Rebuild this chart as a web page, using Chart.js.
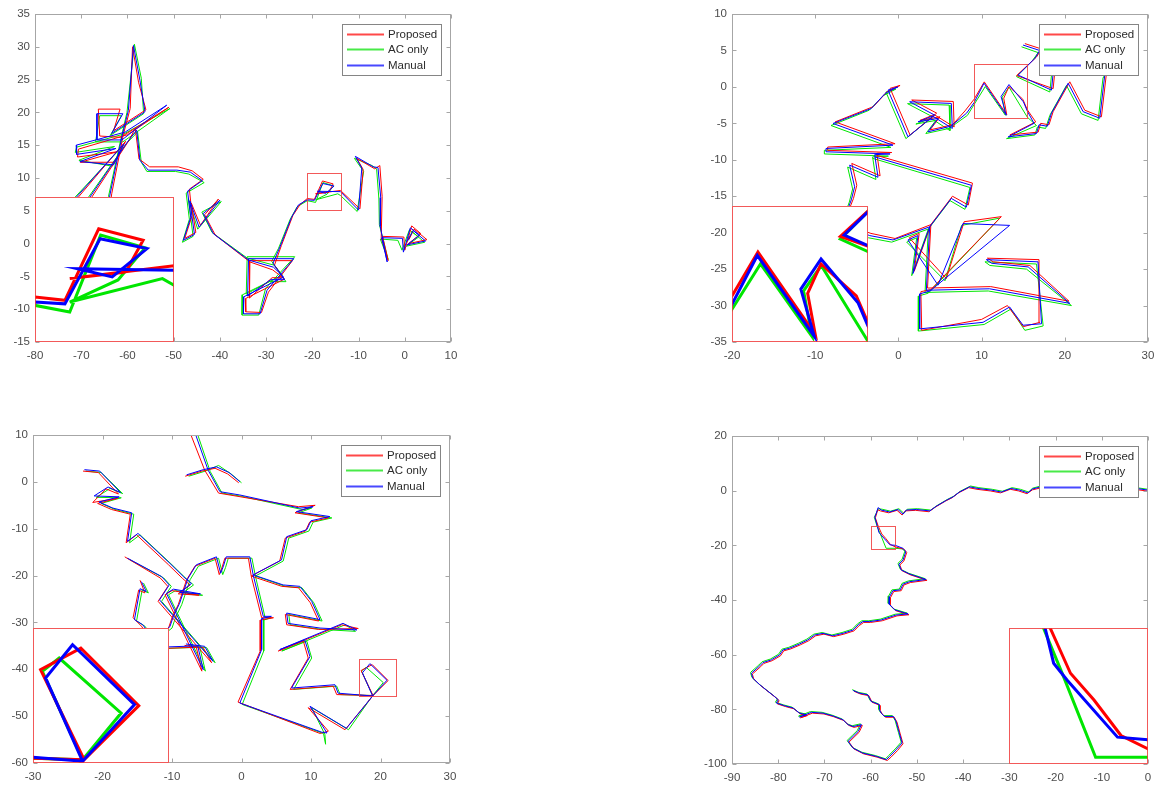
<!DOCTYPE html>
<html><head><meta charset="utf-8">
<script src="https://cdn.jsdelivr.net/npm/chart.js@4.4.0/dist/chart.umd.min.js"></script>
<style>
html,body{margin:0;padding:0;background:#fff;}
body{width:1156px;height:785px;position:relative;overflow:hidden;}
canvas{position:absolute;}
canvas.inset{background:#fff;}
</style></head><body>
<canvas id="m_tl"></canvas><canvas id="m_tr"></canvas><canvas id="m_bl"></canvas><canvas id="m_br"></canvas>
<canvas id="i_tl" class="inset"></canvas><canvas id="i_tr" class="inset"></canvas><canvas id="i_bl" class="inset"></canvas><canvas id="i_br" class="inset"></canvas>
<script>
// ---------- data ----------
const seriesNames = ['Proposed', 'AC only', 'Manual'];

// top-left panel
const tlXTicks = [-80,-70,-60,-50,-40,-30,-20,-10,0,10];
const tlYTicks = [-15,-10,-5,0,5,10,15,20,25,30,35];
const tlZoom = [-21.1,-13.9,5.1,10.8];
const tlManual = [
[-66,-3],[-63.8,7.4],[-61.2,16.3],[-59.8,20.3],[-58.7,30.2],[-57.3,24.9],[-56.2,20.1],[-63.4,16.8],[-61.0,19.8],[-66.6,19.8],[-66.6,15.8],[-61.2,15.8],[-51.5,21.1],[-60.5,17.0],[-71.1,15.0],[-71.0,13.6],[-62.5,14.5],[-70.3,12.5],[-63.0,12.0],[-60.8,15.2],[-71.0,7.1],[-74,-2],null,
[-73,-4],[-68.1,7.1],[-60,15.5],[-58,17.3],[-57.3,12.7],[-55.5,11.2],[-49.3,11.2],[-46.4,10.9],[-43.8,9.6],[-47.0,8.0],[-46.3,4.0],[-47.9,0.5],[-45.5,1.4],[-46.5,6.5],[-44.5,2.5],[-40.0,6.6],[-43.6,4.6],[-41.4,1.5],[-33.8,-2.5],[-28.4,-3.6],[-26.2,-5.1],[-34.8,-8.1],[-34.9,-10.7],[-31.3,-10.7],[-29.8,-7.1],[-24.0,-2.3],[-33.8,-2.3],[-34.0,-8.0],[-29.0,-5.5],[-26.0,-5.5],[-28.5,-3.0],[-27.0,-0.5],[-24.5,4.0],[-23.0,5.9],[-21.1,6.67],[-19.55,6.6],[-17.73,9.16],[-15.3,8.77],[-17.1,7.66],[-18.9,7.98],[-13.9,7.92],[-10.0,5.1],[-9.3,11.5],[-10.7,13.3],[-6.8,11.7],[-5.8,11.6],[-5.2,7.0],[-5.3,2.6],[-3.8,-2.8],[-5.0,0.9],[-0.5,0.8],[-0.3,-1.3],[1.2,2.4],[3.2,1.3],[0.5,-0.2],[4.5,0.4],[1.8,2.0],[0.6,0.4]
];
const tlProposed = [
[-65.6,-3],[-63.4,7.6],[-60.9,16.6],[-59.4,20.6],[-58.9,30.0],[-57.6,24.6],[-56.0,20.4],[-63.0,17.2],[-61.6,20.5],[-66.3,20.5],[-66.0,16.4],[-61.5,16.2],[-51.0,20.8],[-60.0,16.6],[-70.6,14.4],[-70.8,13.2],[-62.2,14.0],[-70.2,12.4],[-62.8,12.4],[-60.4,15.6],[-70.6,7.1],[-73.6,-2],null,
[-72.6,-4],[-67.7,7.1],[-59.6,15.8],[-58.3,17.6],[-57.5,12.9],[-55.2,11.7],[-49.0,11.7],[-46.0,11.1],[-43.6,9.8],[-46.6,8.3],[-46.0,4.3],[-47.6,0.8],[-45.2,1.7],[-46.2,6.2],[-44.2,2.8],[-40.3,6.8],[-43.3,4.4],[-41.0,1.3],[-33.5,-2.8],[-28.6,-4.0],[-26.0,-5.4],[-34.5,-8.4],[-34.4,-10.4],[-31.0,-10.5],[-29.5,-7.4],[-24.3,-2.6],[-33.5,-2.6],[-33.6,-8.3],[-28.7,-5.2],[-26.3,-5.2],[-28.2,-3.3],[-26.7,-0.3],[-24.2,4.3],[-22.7,5.9],[-21.1,6.87],[-19.55,6.74],[-17.8,9.55],[-15.5,9.1],[-16.4,7.85],[-19.3,7.6],[-13.9,8.1],[-9.7,5.3],[-9.0,11.3],[-10.4,13.0],[-6.5,11.4],[-5.4,11.9],[-4.9,7.2],[-5.1,0.9],[-3.6,-2.6],[-4.8,1.1],[-0.2,1.0],[0.0,-1.0],[1.5,2.7],[3.5,1.5],[0.8,0.0],[4.8,0.6],[2.0,2.2],[0.9,0.6]
];
const tlACOnly = [
[-66.3,-3],[-64.1,7.2],[-61.4,16.0],[-60.1,20.0],[-58.5,30.4],[-57.0,25.2],[-56.5,19.8],[-63.7,16.5],[-61.3,19.5],[-66.0,19.5],[-66.9,15.5],[-61.0,15.5],[-50.8,20.6],[-60.8,16.7],[-71.0,14.7],[-71.3,13.9],[-62.8,14.8],[-70.5,12.7],[-63.3,11.8],[-61.0,14.9],[-71.3,7.1],[-74.3,-2],null,
[-73.3,-4],[-68.4,7.1],[-60.3,15.2],[-57.8,17.0],[-57.0,12.4],[-55.8,11.0],[-49.6,11.0],[-46.7,10.6],[-43.4,9.3],[-47.3,7.7],[-46.6,3.7],[-48.1,0.2],[-45.8,1.1],[-46.8,6.8],[-44.8,2.2],[-39.7,6.4],[-43.9,4.8],[-41.7,1.7],[-34.1,-2.2],[-28.2,-3.3],[-26.5,-4.8],[-35.1,-7.8],[-35.2,-10.9],[-31.6,-10.9],[-30.1,-6.8],[-23.8,-2.0],[-34.1,-2.0],[-34.3,-7.7],[-29.3,-5.8],[-25.7,-5.8],[-28.8,-2.7],[-27.3,-0.7],[-24.8,3.7],[-23.3,5.6],[-21.1,6.54],[-19.3,6.28],[-17.7,9.3],[-15.4,8.8],[-16.8,7.54],[-19.3,6.67],[-14.5,7.59],[-13.9,7.33],[-10.3,4.9],[-8.9,11.0],[-10.9,13.0],[-7.1,11.9],[-6.1,11.4],[-5.6,6.8],[-5.5,2.9],[-3.6,-2.4],[-5.3,0.7],[-1.5,0.5],[-0.6,-1.0],[1.0,2.1],[3.0,1.0],[0.3,-0.4],[4.3,0.2],[1.6,1.8],[0.4,0.2]
];

// top-right panel
const trXTicks = [-20,-10,0,10,20,30];
const trYTicks = [-35,-30,-25,-20,-15,-10,-5,0,5,10];
const trZoom = [9.1,15.5,-4.2,3.2];
const trManual = [
[-2.85,-9.6],[8.77,-13.5],[8.17,-16.5],[6.36,-15.3],[3.76,-19.2],[1.75,-25.6],[2.36,-20.4],[1.15,-21.0],[4.76,-27.2],[7.76,-18.75],[13.37,-19.0],[3.8,-28.0],[2.56,-28.4],[2.56,-33.2],[10.17,-32.3],[13.37,-30.2],[14.98,-32.7],[17.2,-32.5],[16.78,-24.0],[10.57,-23.7],[11.2,-24.2],[15.6,-24.7],[20.6,-29.7],[10.97,-27.7],[3.36,-27.9],[3.76,-19.2],[-0.65,-21.0],[-3.45,-20.4],[-6.8,-19.0],[-5.66,-15.5],[-5.26,-13.7],[-5.86,-10.74],[-2.45,-12.4],[-2.85,-9.3],[-1.0,-9.2],[-8.7,-8.9],[-8.7,-8.45],[-0.65,-8.0],[-7.86,-5.02],[-3.25,-2.96],[-1.6,-0.9],[-0.05,0.0],[-1.25,-0.44],[1.15,-6.85],[4.36,-3.87],[1.35,-2.04],[6.36,-2.27],[6.48,-5.7],[4.1,-4.0],[2.36,-4.79],[4.76,-4.33],[3.56,-6.16],[6.3,-5.4],[8.2,-3.6],[9.1,-2.15],[10.29,0.51],[12.97,-3.89],[12.34,-1.32],[13.29,0.32],[15.03,-2.06],[15.5,-3.34],[16.3,-5.0],[13.2,-6.85],[16.6,-6.4],[16.9,-5.2],[17.9,-5.4],[18.4,-3.6],[20.4,0.5],[22.2,-3.4],[24.2,-4.3],[24.8,1.6],[24.9,5.5],[21.5,6.5],[19.6,4.0],[18.6,1.9],[18.4,-0.44],[14.38,1.62],[16.4,3.9],[16.98,5.0],[14.98,5.74]
];
const trProposed = [
[-2.6,-9.4],[8.9,-13.2],[8.4,-16.2],[6.5,-15.0],[3.9,-18.9],[1.9,-25.3],[2.5,-20.1],[1.3,-20.7],[5.76,-26.3],[7.9,-18.5],[12.37,-17.8],[3.9,-27.8],[2.7,-28.1],[2.8,-33.4],[10.0,-31.9],[13.1,-30.0],[15.0,-32.9],[17.0,-32.3],[16.9,-23.7],[10.7,-23.5],[11.4,-24.0],[15.8,-24.5],[20.5,-29.4],[11.1,-27.4],[3.5,-27.6],[3.9,-18.9],[-0.4,-20.8],[-3.3,-20.1],[-6.6,-18.8],[-5.4,-15.3],[-5.0,-13.5],[-5.6,-10.5],[-2.2,-12.2],[-2.6,-9.1],[-0.8,-9.0],[-8.5,-8.7],[-8.5,-8.25],[-0.4,-7.8],[-7.6,-4.8],[-3.0,-2.7],[-1.4,-0.7],[0.2,0.2],[-1.0,-0.2],[1.4,-6.6],[4.6,-3.6],[1.6,-1.8],[6.6,-2.0],[6.7,-5.5],[4.3,-3.8],[2.6,-4.6],[5.0,-4.1],[3.8,-5.9],[6.5,-5.2],[8.0,-3.3],[9.1,-1.69],[10.32,0.69],[13.02,-3.8],[12.66,-1.56],[13.29,0.05],[14.95,-1.69],[15.5,-3.15],[16.5,-4.8],[13.4,-6.6],[16.8,-6.2],[17.1,-5.0],[18.1,-5.2],[18.6,-3.4],[20.6,0.7],[22.4,-3.2],[24.4,-4.1],[25.0,1.8],[25.1,5.7],[21.7,6.7],[19.8,4.2],[18.8,2.1],[18.6,-0.24],[14.2,1.55],[16.6,4.1],[17.2,5.2],[15.2,5.94]
];
const trACOnly = [
[-3.1,-9.8],[8.6,-13.8],[8.0,-16.8],[6.2,-15.6],[3.6,-19.5],[1.6,-25.9],[2.2,-20.7],[1.0,-21.3],[5.6,-26.6],[7.6,-19.0],[12.2,-18.0],[3.6,-28.3],[2.4,-28.7],[2.4,-33.5],[10.3,-32.6],[13.5,-30.5],[15.2,-33.4],[17.4,-32.8],[16.6,-24.3],[10.4,-24.0],[11.0,-24.5],[15.4,-25.0],[20.8,-30.0],[10.8,-28.0],[3.2,-28.2],[3.6,-19.5],[-0.8,-21.3],[-3.6,-20.7],[-7.0,-19.3],[-5.9,-15.8],[-5.5,-14.0],[-6.1,-11.0],[-2.7,-12.7],[-3.1,-9.6],[-1.2,-9.5],[-8.9,-9.2],[-8.9,-8.7],[-0.9,-8.3],[-8.1,-5.3],[-3.5,-3.2],[-1.8,-1.2],[-0.3,-0.3],[-1.5,-0.7],[0.9,-7.1],[4.1,-4.1],[1.1,-2.3],[6.1,-2.5],[6.2,-6.0],[3.9,-4.3],[2.1,-5.1],[4.5,-4.6],[3.3,-6.4],[6.1,-5.7],[8.3,-3.9],[9.1,-2.42],[10.44,0.05],[12.86,-3.89],[12.47,-1.42],[13.3,-0.04],[15.5,-4.16],[16.6,-5.3],[13.0,-7.1],[16.4,-6.6],[16.7,-5.5],[17.7,-5.7],[18.2,-3.9],[20.2,0.2],[22.0,-3.7],[24.0,-4.6],[24.6,1.3],[24.7,5.2],[21.3,6.2],[19.4,3.7],[18.4,1.6],[18.2,-0.7],[14.2,1.4],[16.1,3.6],[16.8,4.7],[14.8,5.5]
];

// bottom-left panel
const blXTicks = [-30,-20,-10,0,10,20,30];
const blYTicks = [-60,-50,-40,-30,-20,-10,0,10];
const blZoom = [16.9,22.3,-45.8,-37.8];
const blManual = [
[-22.6,2.6],[-20.4,2.3],[-17.4,-2.3],[-19.2,-1.1],[-21.2,-3.0],[-17.6,-3.2],[-20.5,-4.3],[-18.5,-5.6],[-15.8,-6.6],[-16.4,-12.7],[-14.9,-11.0],[-10.3,-17.4],[-8.3,-20.3],[-7.2,-21.7],[-8.9,-23.6],[-5.9,-23.9],[-9.8,-22.9],[-10.8,-23.8],[-5.5,-40.1],[-6.3,-35.0],[-12.0,-35.3],null,
[-16.4,-16.3],[-11.5,-20.2],[-10.4,-22.0],[-11.8,-25.2],[-4.1,-38.3],[-5.3,-35.1],[-8.0,-34.6],null,
[-14.4,-21.3],[-13.7,-23.4],[-14.6,-22.8],[-15.4,-29.4],[-14.2,-30.5],[-13.0,-33.0],null,
[-12.5,-33.5],[-10.3,-30.9],[-9.8,-28.7],[-8.9,-25.9],[-7.7,-20.6],[-6.5,-17.7],[-3.6,-16.0],[-3.0,-19.5],[-2.6,-18.0],[-2.2,-16.0],[1.2,-16.0],[1.68,-19.85],[3.13,-28.7],[4.3,-28.7],[2.9,-29.2],[2.9,-35.8],[-0.24,-47.2],[11.5,-53.4],[12.3,-53.6],[9.85,-47.9],[15.1,-52.6],[18.87,-45.7],[17.4,-40.76],[18.47,-38.79],[20.93,-42.34],[18.87,-45.7],[13.9,-45.1],[13.45,-43.3],[7.2,-44.0],[9.85,-37.3],[9.1,-33.7],[5.5,-35.8],[14.6,-30.2],[16.6,-31.6],[11.3,-31.2],[6.7,-30.2],[6.5,-28.0],[11.3,-29.4],[10.1,-25.5],[8.4,-22.3],[6.0,-22.0],[1.68,-19.85],[5.76,-16.65],[6.5,-11.7],[9.4,-10.2],[10.0,-8.3],[12.7,-7.4],[7.9,-6.35],[10.3,-5.3],[8.4,-5.6],[-0.24,-2.8],[-3.1,-2.1],[-4.8,2.5],[-6.7,10.5],null,
[-7.9,1.5],[-5.5,2.6],[-3.6,3.2],[-1.8,2.0],[-0.24,0.05]
];
const blProposed = [
[-22.8,2.3],[-20.6,2.0],[-17.7,-2.6],[-19.5,-1.5],[-21.4,-4.4],[-17.8,-3.5],[-20.7,-4.6],[-18.7,-5.9],[-16.0,-6.9],[-16.6,-13.0],[-15.1,-11.3],[-10.5,-17.7],[-8.5,-20.6],[-7.4,-22.0],[-9.1,-23.9],[-6.1,-24.2],[-10.0,-23.2],[-11.0,-24.1],[-5.7,-40.4],[-6.5,-35.3],[-12.2,-35.6],null,
[-16.8,-16.0],[-11.7,-20.5],[-10.6,-22.3],[-12.0,-25.5],[-4.3,-38.6],[-5.5,-35.4],[-8.2,-34.9],null,
[-14.6,-21.0],[-13.9,-23.7],[-14.8,-23.1],[-15.6,-29.0],[-14.4,-30.8],[-13.2,-33.3],null,
[-12.7,-33.8],[-10.5,-31.2],[-10.0,-29.0],[-9.1,-26.2],[-7.9,-20.9],[-6.7,-18.0],[-3.8,-16.3],[-3.2,-19.8],[-2.8,-18.3],[-2.4,-16.3],[1.0,-16.3],[1.4,-20.1],[2.9,-29.0],[4.6,-29.0],[2.7,-29.5],[2.7,-36.1],[-0.5,-47.0],[11.3,-53.7],[12.5,-53.2],[9.6,-48.2],[14.9,-52.9],[18.93,-45.6],[17.2,-40.27],[18.8,-38.99],[21.1,-42.4],[18.93,-45.6],[13.7,-45.4],[13.2,-43.6],[7.0,-44.3],[9.6,-37.6],[8.9,-34.0],[5.3,-36.1],[14.4,-30.5],[16.8,-31.3],[11.1,-31.5],[6.5,-30.5],[6.3,-28.3],[11.1,-29.7],[9.9,-25.8],[8.2,-22.6],[5.8,-22.3],[1.4,-20.1],[5.5,-16.9],[6.3,-12.0],[9.2,-10.5],[9.8,-8.6],[12.5,-7.7],[7.7,-6.6],[10.6,-5.0],[8.2,-5.3],[-0.5,-3.1],[-3.3,-2.4],[-5.3,2.5],[-7.4,10.5],null,
[-8.1,1.2],[-5.7,2.3],[-3.8,2.9],[-2.0,1.7],[-0.4,-0.2]
];
const blACOnly = [
[-22.4,2.3],[-20.2,2.0],[-17.1,-2.5],[-18.9,-1.4],[-20.9,-3.3],[-17.3,-3.4],[-20.2,-4.6],[-18.2,-5.9],[-15.5,-6.9],[-16.1,-13.0],[-14.6,-11.3],[-10.0,-17.7],[-8.0,-20.6],[-6.9,-22.0],[-8.6,-23.9],[-5.6,-24.2],[-9.5,-23.2],[-10.5,-24.1],[-5.2,-40.4],[-6.0,-35.3],[-11.7,-35.6],null,
[-16.1,-16.6],[-11.2,-20.5],[-10.1,-22.3],[-11.5,-25.5],[-3.8,-38.6],[-5.0,-35.4],[-7.7,-34.9],null,
[-14.1,-21.6],[-13.4,-23.7],[-14.3,-23.1],[-15.1,-29.7],[-13.9,-30.8],[-12.7,-33.3],null,
[-12.2,-33.8],[-10.0,-31.2],[-9.5,-29.0],[-8.6,-26.2],[-7.4,-20.9],[-6.2,-18.0],[-3.3,-16.3],[-2.7,-19.8],[-2.3,-18.3],[-1.9,-16.3],[1.5,-16.3],[2.0,-20.1],[3.4,-29.0],[4.3,-29.0],[3.2,-29.5],[3.2,-36.1],[0.1,-47.5],[11.8,-53.7],[12.1,-56.0],[12.0,-53.9],[10.1,-48.2],[15.4,-52.9],[18.87,-45.6],[17.27,-40.37],[17.94,-39.58],[20.4,-42.84],[18.87,-45.6],[14.2,-45.4],[13.7,-43.6],[7.5,-44.3],[10.1,-37.6],[9.4,-34.0],[5.8,-36.1],[14.9,-30.5],[16.4,-31.9],[11.6,-31.5],[7.0,-30.5],[6.8,-28.3],[11.6,-29.7],[10.4,-25.8],[8.7,-22.6],[6.3,-22.3],[2.0,-20.1],[6.0,-16.9],[6.8,-12.0],[9.7,-10.5],[10.3,-8.6],[13.0,-7.7],[8.2,-6.6],[10.1,-5.6],[8.7,-5.9],[0.1,-3.1],[-2.8,-2.4],[-4.5,2.2],[-6.4,10.5],null,
[-7.6,1.2],[-5.2,2.3],[-3.3,3.5],[-1.5,1.7],[0.0,-0.2]
];

// bottom-right panel
const brXTicks = [-90,-80,-70,-60,-50,-40,-30,-20,-10,0];
const brYTicks = [-100,-80,-60,-40,-20,0,20];
const brZoom = [-59.9,-54.7,-21.5,-13.0];
const brManual = [
[0,0.2],[-2.5,0.8],[-5,0.3],[-8,1.2],[-11,0.5],[-14,1.0],[-17,0.2],[-20,0.9],[-23,1.5],[-25,0.6],[-26,-0.8],[-27.8,0.2],[-29.6,0.8],[-31.7,-0.5],[-33.9,0.2],[-36.8,0.8],[-38.6,1.4],[-40.8,-0.5],[-42.2,-2.3],[-43.6,-3.5],[-45.8,-5.7],[-47.2,-7.4],[-50.1,-6.9],[-52.3,-7.1],[-53.0,-8.6],[-54.1,-6.9],[-55.9,-7.8],[-57.7,-7.1],[-58.4,-6.2],[-58.8,-8.4],[-59.1,-9.6],[-58.55,-13.0],[-58.23,-15.2],[-57.73,-16.25],[-55.84,-19.82],[-54.7,-19.99],[-53.0,-21.1],[-52.4,-22.35],[-53.0,-25.4],[-53.9,-26.9],[-53.4,-29.0],[-51.6,-30.5],[-48.0,-32.5],[-51.6,-33.3],[-53.0,-34.2],[-53.6,-36.3],[-55.2,-36.6],[-55.9,-38.8],[-56.0,-41.5],[-54.8,-43.6],[-51.9,-45.1],[-54.5,-45.5],[-57.7,-47.3],[-60.2,-47.9],[-61.7,-47.9],[-62.7,-49.1],[-63.8,-51.0],[-66.0,-52.2],[-68.2,-53.1],[-70.3,-52.2],[-72.1,-52.8],[-73.6,-54.6],[-75.4,-56.1],[-77.5,-57.6],[-79.0,-58.3],[-79.7,-60.1],[-81.5,-61.9],[-83.3,-62.9],[-84.0,-64.1],[-85.8,-66.8],[-85.5,-68.6],[-84.0,-71.0],[-82.6,-72.9],[-80.8,-75.3],[-80.0,-76.5],[-80.4,-77.7],[-78.6,-78.7],[-76.8,-79.5],[-75.4,-81.4],[-73.9,-82.0],[-75.4,-82.8],[-72.8,-81.1],[-70.3,-81.4],[-68.2,-82.4],[-66.0,-83.8],[-64.9,-85.6],[-63.8,-86.3],[-62.0,-85.6],[-62.7,-88.1],[-63.8,-89.9],[-64.9,-91.7],[-63.8,-94.2],[-61.7,-96.0],[-58.8,-97.2],[-56.6,-98.4],[-55.9,-97.2],[-54.5,-94.8],[-53.2,-92.3],[-53.8,-88.7],[-54.5,-84.4],[-55.1,-82.6],[-57.0,-82.6],[-57.7,-81.4],[-58.1,-80.2],[-58.1,-78.3],[-59.9,-77.1],[-60.6,-74.7],[-62.4,-74.1],[-63.8,-73.1]
];
const brProposed = [
[0,-0.2],[-2.5,0.4],[-5,0.0],[-8,0.8],[-11,0.2],[-14,0.6],[-17,-0.2],[-20,0.5],[-23,1.1],[-25,0.3],[-26.2,-1.1],[-28.0,-0.1],[-29.8,0.5],[-31.9,-0.8],[-34.1,-0.1],[-37.0,0.5],[-38.8,1.1],[-41.0,-0.8],[-42.4,-2.6],[-43.8,-3.8],[-46.0,-6.0],[-47.4,-7.7],[-50.3,-7.2],[-52.5,-7.4],[-53.2,-8.9],[-54.3,-7.2],[-56.1,-8.1],[-57.9,-7.4],[-58.5,-7.0],[-58.8,-9.0],[-59.0,-9.9],[-58.36,-13.0],[-57.6,-15.83],[-56.72,-17.5],[-55.71,-19.72],[-54.7,-20.56],[-52.8,-21.4],[-52.2,-22.6],[-52.8,-25.7],[-53.7,-27.2],[-53.2,-29.3],[-51.4,-30.8],[-47.8,-32.8],[-51.4,-33.6],[-52.8,-34.5],[-53.4,-36.6],[-55.0,-36.9],[-55.7,-39.1],[-55.8,-41.8],[-54.6,-43.9],[-51.7,-45.4],[-54.3,-45.8],[-57.5,-47.6],[-60.0,-48.2],[-61.5,-48.2],[-62.5,-49.4],[-63.6,-51.3],[-65.8,-52.5],[-68.0,-53.4],[-70.1,-52.5],[-71.9,-53.1],[-73.4,-54.9],[-75.2,-56.4],[-77.3,-57.9],[-78.8,-58.6],[-79.5,-60.4],[-81.3,-62.2],[-83.1,-63.2],[-83.8,-64.4],[-85.6,-67.1],[-85.3,-68.9],[-83.8,-71.3],[-82.4,-73.2],[-80.6,-75.6],[-79.8,-76.8],[-80.2,-78.0],[-78.4,-79.0],[-76.6,-79.8],[-75.2,-81.7],[-73.7,-82.3],[-75.2,-83.1],[-72.6,-81.4],[-70.1,-81.7],[-68.0,-82.7],[-65.8,-84.1],[-64.7,-85.9],[-63.6,-86.6],[-61.8,-85.9],[-62.5,-88.4],[-63.6,-90.2],[-64.7,-92.0],[-63.6,-94.5],[-61.5,-96.3],[-58.6,-97.5],[-56.4,-98.7],[-55.6,-97.5],[-54.2,-95.1],[-53.0,-92.6],[-53.6,-89.0],[-54.3,-84.7],[-54.9,-82.9],[-56.8,-82.9],[-57.5,-81.7],[-57.9,-80.5],[-57.9,-78.6],[-59.7,-77.4],[-60.4,-75.0],[-62.2,-74.4],[-63.6,-73.4]
];
const brACOnly = [
[0,0.5],[-2.5,1.1],[-5,0.6],[-8,1.5],[-11,0.8],[-14,1.3],[-17,0.5],[-20,1.2],[-23,1.8],[-25,0.9],[-25.8,-0.5],[-27.6,0.5],[-29.4,1.1],[-31.5,-0.2],[-33.7,0.5],[-36.6,1.1],[-38.4,1.7],[-40.6,-0.2],[-42.0,-2.0],[-43.4,-3.2],[-45.6,-5.4],[-47.0,-7.1],[-49.9,-6.6],[-52.1,-6.8],[-52.8,-8.3],[-53.9,-6.6],[-55.7,-7.5],[-57.5,-6.8],[-58.3,-6.6],[-58.9,-8.6],[-59.2,-9.8],[-58.61,-13.0],[-57.86,-16.04],[-56.66,-21.08],[-54.7,-21.08],[-53.2,-21.3],[-52.6,-22.1],[-53.2,-25.1],[-54.1,-26.6],[-53.6,-28.7],[-51.8,-30.2],[-48.2,-32.2],[-51.8,-33.0],[-53.2,-33.9],[-53.8,-36.0],[-55.4,-36.3],[-56.1,-38.5],[-56.2,-41.2],[-55.0,-43.3],[-52.1,-44.8],[-54.7,-45.2],[-57.9,-47.0],[-60.4,-47.6],[-61.9,-47.6],[-62.9,-48.8],[-64.0,-50.7],[-66.2,-51.9],[-68.4,-52.8],[-70.5,-51.9],[-72.3,-52.5],[-73.8,-54.3],[-75.6,-55.8],[-77.7,-57.3],[-79.2,-58.0],[-79.9,-59.8],[-81.7,-61.6],[-83.5,-62.6],[-84.2,-63.8],[-86.0,-66.5],[-85.7,-68.3],[-84.2,-70.7],[-82.8,-72.6],[-81.0,-75.0],[-80.2,-76.2],[-80.6,-77.4],[-78.8,-78.4],[-77.0,-79.2],[-75.6,-81.1],[-74.1,-81.7],[-75.6,-82.5],[-73.0,-80.8],[-70.5,-81.1],[-68.4,-82.1],[-66.2,-83.5],[-65.1,-85.3],[-64.0,-86.0],[-62.2,-85.3],[-62.9,-87.8],[-64.0,-89.6],[-65.1,-91.4],[-64.0,-93.9],[-61.9,-95.7],[-59.0,-96.9],[-56.8,-98.1],[-56.1,-96.9],[-54.7,-94.5],[-53.4,-92.0],[-54.0,-88.4],[-54.7,-84.1],[-55.3,-82.3],[-57.2,-82.3],[-57.9,-81.1],[-58.3,-79.9],[-58.3,-78.0],[-60.1,-76.8],[-60.8,-74.4],[-62.6,-73.8],[-64.0,-72.8]
];

// ---------- layout / style ----------
const COLORS = ['#ff0000', '#00e600', '#0000ff'];
const LEGEND_COLORS = ['rgba(255,40,40,0.85)', 'rgba(40,230,40,0.85)', 'rgba(40,40,255,0.85)'];
const ORDER = [1, 2, 0];
const FONT = '"Liberation Sans", Arial, Helvetica, sans-serif';
const TICK_COLOR = '#4d4d4d';
const AXIS_COLOR = '#a6a6a6';
const ZOOM_COLOR = 'rgba(240,60,60,0.85)';

const panels = [
  {id:'tl', plot:[35,14,451,342], inset:[35,197,174,342], xt:tlXTicks, yt:tlYTicks, zoom:tlZoom, s:[tlProposed, tlACOnly, tlManual]},
  {id:'tr', plot:[732,14,1148,342], inset:[732,206,868,342], xt:trXTicks, yt:trYTicks, zoom:trZoom, s:[trProposed, trACOnly, trManual]},
  {id:'bl', plot:[33,435,450,763], inset:[33,628,169,763], xt:blXTicks, yt:blYTicks, zoom:blZoom, s:[blProposed, blACOnly, blManual]},
  {id:'br', plot:[732,436,1148,764], inset:[1009,628,1148,764], xt:brXTicks, yt:brYTicks, zoom:brZoom, s:[brProposed, brACOnly, brManual]}
];

const pts = arr => arr.map(p => p ? {x:p[0], y:p[1]} : {x:null, y:null});

const matlabPlugin = {
  id: 'matlab',
  afterDatasetsDraw(chart, args, o) {
    if (!o.zoom) return;
    const {ctx, scales:{x, y}} = chart;
    const [x0,x1,y0,y1] = o.zoom;
    const px0 = Math.round(x.getPixelForValue(x0)) + 0.5, px1 = Math.round(x.getPixelForValue(x1)) + 0.5;
    const py0 = Math.round(y.getPixelForValue(y0)) + 0.5, py1 = Math.round(y.getPixelForValue(y1)) + 0.5;
    ctx.save();
    ctx.strokeStyle = ZOOM_COLOR; ctx.lineWidth = 1;
    ctx.strokeRect(px0, py1, px1 - px0, py0 - py1);
    ctx.restore();
  },
  afterDraw(chart, args, o) {
    const {ctx, chartArea:a} = chart;
    ctx.save();
    if (o.frame) {
      const {x, y} = chart.scales;
      const L = Math.round(a.left) + 0.5, R = Math.round(a.right) - 0.5, T = Math.round(a.top) + 0.5, B = Math.round(a.bottom) - 0.5;
      ctx.strokeStyle = AXIS_COLOR; ctx.lineWidth = 1;
      ctx.strokeRect(L, T, R - L, B - T);
      ctx.beginPath();
      x.ticks.forEach(t => { const p = Math.round(x.getPixelForValue(t.value)) + 0.5; ctx.moveTo(p, B); ctx.lineTo(p, B - 4); ctx.moveTo(p, T); ctx.lineTo(p, T + 4); });
      y.ticks.forEach(t => { const p = Math.round(y.getPixelForValue(t.value)) + 0.5; ctx.moveTo(L, p); ctx.lineTo(L + 4, p); ctx.moveTo(R, p); ctx.lineTo(R - 4, p); });
      ctx.stroke();
    }
    if (o.legend) {
      const lw = 99, lh = 51;
      const lx = Math.round(a.right - 10 - lw), ly = Math.round(a.top + 9.5);
      ctx.fillStyle = '#ffffff'; ctx.fillRect(lx, ly, lw, lh);
      ctx.strokeStyle = '#858585'; ctx.lineWidth = 1; ctx.strokeRect(lx + 0.5, ly + 0.5, lw, lh);
      const rows = [10, 25, 41];
      ctx.font = '11.5px ' + FONT; ctx.textBaseline = 'middle'; ctx.textAlign = 'left';
      seriesNames.forEach((name, i) => {
        const yy = ly + rows[i];
        ctx.fillStyle = LEGEND_COLORS[i];
        ctx.fillRect(lx + 5, yy - 0.5, 37, 2);
        ctx.fillStyle = '#2b2b2b';
        ctx.fillText(name, lx + 46, yy + 1);
      });
    }
    if (o.border) {
      ctx.strokeStyle = ZOOM_COLOR; ctx.lineWidth = 1;
      ctx.strokeRect(0.5, 0.5, chart.width - 1, chart.height - 1);
    }
    ctx.restore();
  }
};

function makeDatasets(series, width) {
  return series.map((s, i) => ({
    label: seriesNames[i], data: pts(s), showLine: true, borderColor: COLORS[i],
    backgroundColor: COLORS[i], borderWidth: width, pointRadius: 0, pointHoverRadius: 0,
    spanGaps: false, order: ORDER[i], borderJoinStyle: 'miter', tension: 0
  }));
}

panels.forEach(p => {
  const [L, T, R, B] = p.plot;
  const yw = 35, xh = 24, padT = 14, padR = 8;
  const cl = L - yw, ct = T - padT, cw = (R - cl) + padR, ch = (B - ct) + xh;
  const cv = document.getElementById('m_' + p.id);
  cv.width = cw; cv.height = ch; cv.style.left = cl + 'px'; cv.style.top = ct + 'px';
  cv.style.width = cw + 'px'; cv.style.height = ch + 'px';
  const tickFont = {family: FONT, size: 11.5};
  new Chart(cv, {
    type: 'scatter',
    data: {datasets: makeDatasets(p.s, 1)},
    options: {
      animation: false, responsive: false, maintainAspectRatio: false, devicePixelRatio: 1,
      events: [],
      layout: {padding: {left: 0, top: padT, right: padR, bottom: 0}},
      plugins: {legend: {display: false}, tooltip: {enabled: false},
        matlab: {zoom: p.zoom, frame: true, legend: true}},
      scales: {
        x: {type: 'linear', min: p.xt[0], max: p.xt[p.xt.length - 1],
          afterBuildTicks: s => { s.ticks = p.xt.map(v => ({value: v})); },
          afterFit: s => { s.height = xh; s.paddingLeft = 0; s.paddingRight = 0; },
          grid: {display: false, drawTicks: false}, border: {display: false},
          ticks: {font: tickFont, color: TICK_COLOR, padding: 7, maxRotation: 0, autoSkip: false, callback: v => String(v)}},
        y: {type: 'linear', min: p.yt[0], max: p.yt[p.yt.length - 1],
          afterBuildTicks: s => { s.ticks = p.yt.map(v => ({value: v})); },
          afterFit: s => { s.width = yw; s.paddingTop = 0; s.paddingBottom = 0; },
          grid: {display: false, drawTicks: false}, border: {display: false},
          ticks: {font: tickFont, color: TICK_COLOR, padding: 5, autoSkip: false, callback: v => String(v)}}
      }
    },
    plugins: [matlabPlugin]
  });

  const [iL, iT, iR, iB] = p.inset;
  const ic = document.getElementById('i_' + p.id);
  ic.width = iR - iL; ic.height = iB - iT; ic.style.left = iL + 'px'; ic.style.top = iT + 'px';
  ic.style.width = (iR - iL) + 'px'; ic.style.height = (iB - iT) + 'px';
  new Chart(ic, {
    type: 'scatter',
    data: {datasets: makeDatasets(p.s, 3)},
    options: {
      animation: false, responsive: false, maintainAspectRatio: false, devicePixelRatio: 1,
      events: [],
      layout: {padding: 0},
      plugins: {legend: {display: false}, tooltip: {enabled: false}, matlab: {border: true}},
      scales: {
        x: {type: 'linear', min: p.zoom[0], max: p.zoom[1], display: false},
        y: {type: 'linear', min: p.zoom[2], max: p.zoom[3], display: false}
      }
    },
    plugins: [matlabPlugin]
  });
});
</script>
</body></html>
